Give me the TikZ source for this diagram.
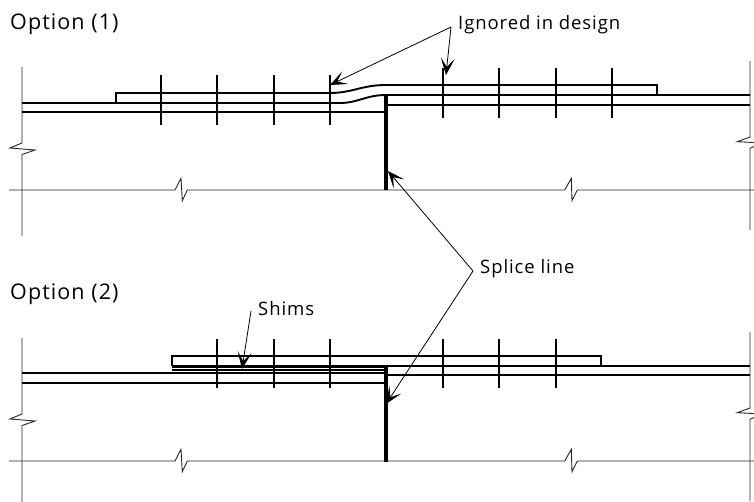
\documentclass[tikz,border=0pt]{standalone}
\usepackage{fontspec}
\setmainfont[LetterSpace=5]{Open Sans}
\usetikzlibrary{arrows.meta}
\tikzset{
  thinline/.style={line width=0.9pt,black!85},
  steel/.style={line width=1.9pt,line join=miter},
  splice/.style={line width=3.3pt},
  leader/.style={line width=0.8pt,-{Stealth[length=17pt,width=14pt,inset=9pt]}},
  caption/.style={anchor=west,inner sep=0pt,font=\fontsize{21.5}{26}\selectfont},
  callout/.style={anchor=west,inner sep=0pt,font=\fontsize{18.5}{22}\selectfont}
}
\begin{document}
\begin{tikzpicture}[x=1pt,y=-1pt]
\useasboundingbox (0,0) rectangle (754,502);
\foreach \offset in {0,271} {
  \begin{scope}[yshift=-\offset pt]
  \draw [thinline] (22,67) -- (22,143) -- (10,148) -- (35,150) -- (22,154.5) -- (22,236);
  \draw [thinline] (750,61) -- (750,137) -- (737.3,141.7) -- (762,143) -- (750,148.3) -- (750,230);
  \draw [thinline] (9,190) -- (175,190) -- (181,178.3) -- (182.3,200.7) -- (187.3,190) -- (564.7,190) -- (571.3,178.3) -- (572,200.7) -- (577.3,190) -- (754,190);
  \end{scope}
}
\draw [steel] (22,103) -- (116,103) -- (340,103) .. controls (358,103) and (366,95) .. (386,95) -- (750,95);
\draw [steel] (22,112) -- (386,112); \draw [steel] (386,105) -- (750,105);
\draw [steel] (116,103) -- (116,93) -- (330,93) .. controls (352,93) and (362,85) .. (386,85) -- (657,85) -- (657,95);
\draw [splice] (386,95) -- (386,190);
\foreach \bx in {161,217,274,330} {\draw [steel] (\bx,75) -- (\bx,125);}
\foreach \bx in {443,499,556,612} {\draw [steel] (\bx,68) -- (\bx,118);}
\draw [steel] (22,373) -- (386,373); \draw [steel] (22,383) -- (386,383);
\draw [steel] (386,366) -- (750,366); \draw [steel] (386,375) -- (750,375);
\draw [steel] (172,366) -- (172,356) -- (601,356) -- (601,366); \draw [steel] (172,366) -- (386,366);
\foreach \sy in {367.5,369,370.5,372} {\draw [line width=0.8pt] (172,\sy) -- (386,\sy);}
\draw [splice] (386,366) -- (386,462);
\foreach \bx in {217,274,330,443,499,556} {\draw [steel] (\bx,339) -- (\bx,388);}
\node [caption] (optone) at (10,24) {Option (1)};
\node [caption] (opttwo) at (10,294) {Option (2)};
\node [callout] (ignored) at (458,25) {Ignored in design};
\node [callout] (spliceline) at (480,269) {Splice line};
\node [callout] (shims) at (258,309) {Shims};
\coordinate (ignoredapex) at (451,27); \coordinate (plateend) at (330,85); \coordinate (boltend) at (446,75);
\coordinate (spliceapex) at (473,271); \coordinate (spliceup) at (388,171); \coordinate (splicedown) at (386,404);
\coordinate (shimsapex) at (251,311); \coordinate (shimend) at (242,369);
\draw [leader] (ignoredapex) -- (plateend); \draw [leader] (ignoredapex) -- (boltend);
\draw [leader] (spliceapex) -- (spliceup); \draw [leader] (spliceapex) -- (splicedown);
\draw [leader] (shimsapex) -- (shimend);
\end{tikzpicture}
\end{document}
